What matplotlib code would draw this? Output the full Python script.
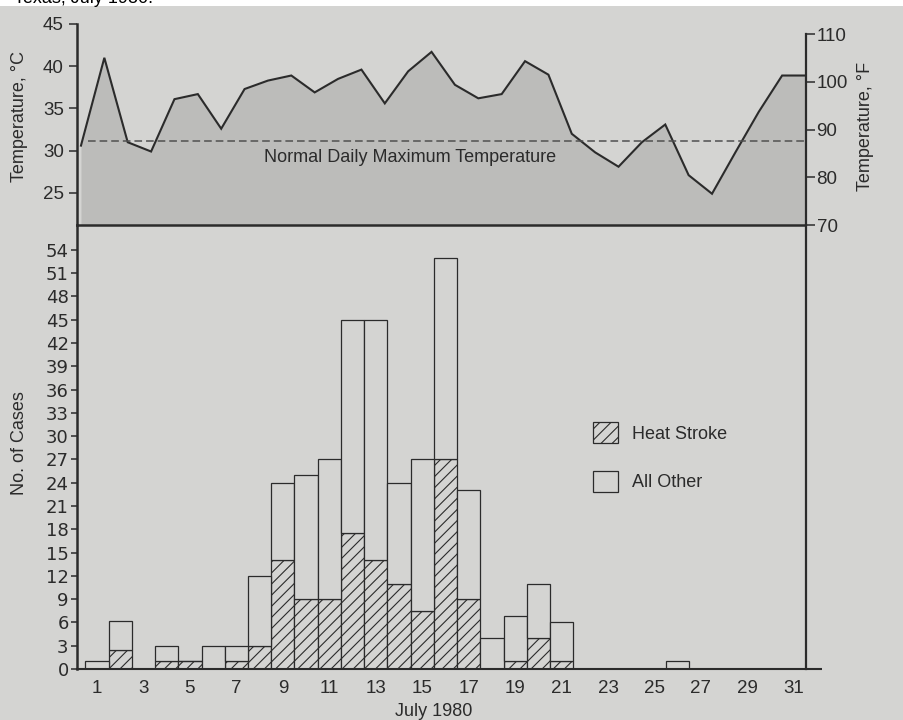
import matplotlib
matplotlib.use("Agg")
import numpy as np
import matplotlib.pyplot as plt
from matplotlib.patches import Patch, Rectangle

# daily maximum temperature, deg C (June 30 .. July 31)
temp_days = list(range(0, 32))
temp_c = [30.6, 41.0, 31.0, 29.9, 36.1, 36.7, 32.6, 37.3, 38.3, 38.9, 36.9,
          38.5, 39.6, 35.6, 39.4, 41.7, 37.8, 36.2, 36.7, 40.6, 39.0, 32.0,
          29.8, 28.1, 31.0, 33.1, 27.1, 24.9, 29.8, 34.6, 38.9, 38.9]
normal_max_c = 31.2

# cases per day, July 1980
days = list(range(1, 32))
heat_stroke = [0, 2.5, 0, 1, 1, 0, 1, 3, 14, 9, 9, 17.5, 14, 11, 7.5, 27,
               9, 0, 1, 4, 1, 0, 0, 0, 0, 0, 0, 0, 0, 0, 0]
all_other = [1, 3.7, 0, 2, 0, 3, 2, 9, 10, 16, 18, 27.5, 31, 13, 19.5, 26,
             14, 4, 5.8, 7, 5, 0, 0, 0, 0, 1, 0, 0, 0, 0, 0]

c_ticks = [25, 30, 35, 40, 45]
f_ticks = [70, 80, 90, 100, 110]
case_ticks = list(range(0, 55, 3))
day_ticks = list(range(1, 32, 2))

bg = "#d4d4d2"
fill = "#bcbcba"
ink = "#2b2b2b"

plt.rcParams["font.family"] = ["Liberation Sans", "DejaVu Sans"]
plt.rcParams["font.size"] = 13
plt.rcParams["text.color"] = ink
plt.rcParams["axes.labelcolor"] = ink
plt.rcParams["xtick.color"] = ink
plt.rcParams["ytick.color"] = ink
plt.rcParams["hatch.linewidth"] = 0.8
plt.rcParams["hatch.color"] = ink

W, H = 904, 720
fig = plt.figure(figsize=(W / 100, H / 100), dpi=100, facecolor=bg)

# white strip with the cut off caption at the very top
fig.patches.append(Rectangle((0, 1 - 6 / H), 1, 6 / H, transform=fig.transFigure,
                             facecolor="white", edgecolor="none", zorder=0))
fig.text(153 / W, 1 - 3 / H, "Texas, July 1980.", ha="right", va="baseline",
         fontsize=13, color="black")

left = 77 / W
width = 728.5 / W

# ---- top panel: temperature ----
ax_t = fig.add_axes([left, (H - 225) / H, width, 201 / H])
ax_t.patch.set_visible(False)
y_floor = 21.2
ax_t.fill_between(temp_days, temp_c, y_floor, color=fill, lw=0)
ax_t.plot(temp_days, temp_c, color=ink, lw=1.5, solid_joinstyle="miter")
ax_t.axhline(normal_max_c, xmin=0.015, xmax=1, color="#505050", lw=1.1,
             ls=(0, (5, 2.6)))
ax_t.text(0.4575, 0.338, "Normal Daily Maximum Temperature", transform=ax_t.transAxes,
          ha="center", va="center", fontsize=13)
ax_t.set_xlim(-0.17, 31.0)
ax_t.set_ylim(y_floor, 45)
ax_t.set_xticks([])
ax_t.set_yticks(c_ticks)
ax_t.tick_params(axis="y", direction="out", length=6, width=1.1, pad=3.5,
                 labelsize=13.5)
for s in ["top", "right"]:
    ax_t.spines[s].set_visible(False)
ax_t.spines["left"].set_linewidth(1.8)
ax_t.spines["bottom"].set_linewidth(1.8)
ax_t.spines["left"].set_color(ink)
ax_t.spines["bottom"].set_color(ink)
ax_t.set_ylabel("Temperature, °C")
ax_t.yaxis.set_label_coords(-0.067, 0.542)

ax_f = ax_t.twinx()
ax_f.set_ylim(70, 112.1)
ax_f.set_yticks(f_ticks)
ax_f.tick_params(axis="y", direction="out", length=6.5, width=1.1, pad=1.5,
                 labelsize=13.5)
for s in ["top", "left", "bottom"]:
    ax_f.spines[s].set_visible(False)
ax_f.spines["right"].set_bounds(70, 110)
ax_f.spines["right"].set_linewidth(1.6)
ax_f.spines["right"].set_color(ink)
ax_f.set_ylabel("Temperature, °F")
ax_f.yaxis.set_label_coords(1.071, 0.4925)

# ---- bottom panel: cases ----
ax_b = fig.add_axes([left, 51 / H, width, 444 / H])
ax_b.patch.set_visible(False)
ax_b.bar(days, heat_stroke, width=1.0, facecolor=bg, edgecolor=ink, lw=0.9,
         hatch="///")
ax_b.bar(days, all_other, width=1.0, bottom=heat_stroke, facecolor=bg,
         edgecolor=ink, lw=0.9)
ax_b.set_xlim(0.139, 31.5)
ax_b.set_ylim(0, 57.2)
ax_b.set_yticks(case_ticks)
ax_b.set_xticks(day_ticks)
ax_b.tick_params(axis="y", direction="out", length=4.5, width=1.1, pad=1.5)
ax_b.tick_params(axis="x", length=0, pad=8, labelsize=13.5)
for lbl in ax_b.get_yticklabels():
    lbl.set_fontfamily("DejaVu Sans")
    lbl.set_fontsize(13)
ax_b.spines["top"].set_visible(False)
ax_b.spines["left"].set_linewidth(1.8)
ax_b.spines["bottom"].set_linewidth(1.5)
ax_b.spines["right"].set_linewidth(1.6)
for s in ["left", "bottom", "right"]:
    ax_b.spines[s].set_color(ink)
ax_b.plot([1, 1.022], [0, 0], transform=ax_b.transAxes, clip_on=False,
          color=ink, lw=1.5, solid_capstyle="butt")
ax_b.set_ylabel("No. of Cases")
ax_b.yaxis.set_label_coords(-0.067, 0.509)
ax_b.set_xlabel("July 1980")
ax_b.xaxis.set_label_coords(0.49, -0.076)

handles = [Patch(facecolor=bg, edgecolor=ink, lw=0.9, hatch="///", label="Heat Stroke"),
           Patch(facecolor=bg, edgecolor=ink, lw=0.9, label="All Other")]
ax_b.legend(handles=handles, loc="upper left", bbox_to_anchor=(0.708, 0.556),
            frameon=False, handlelength=1.39, handleheight=1.39, labelspacing=1.55,
            handletextpad=0.78, borderpad=0, borderaxespad=0, fontsize=13)

fig.savefig("out.png", dpi=100, facecolor=bg)
